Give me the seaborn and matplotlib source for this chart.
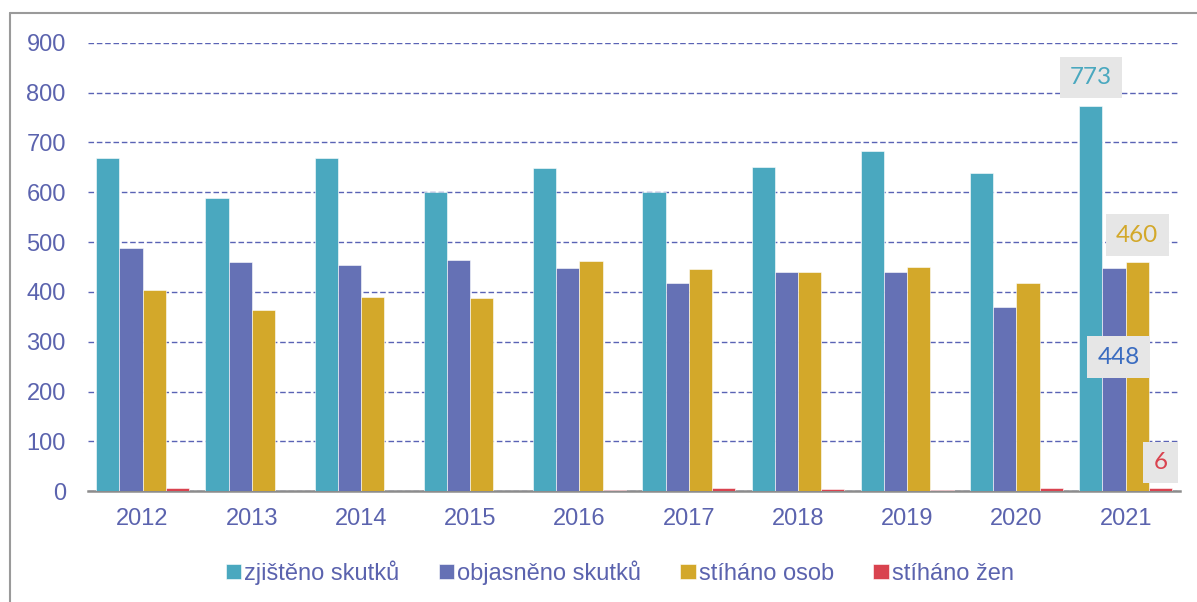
import pandas as pd
import numpy as np
import matplotlib.pyplot as plt
from matplotlib.lines import Line2D
import seaborn as sns

years = ['2012', '2013', '2014', '2015', '2016', '2017', '2018', '2019', '2020', '2021']
zjisteno = [669, 588, 669, 600, 649, 600, 651, 683, 639, 773]
objasneno = [488, 460, 454, 464, 448, 418, 440, 440, 370, 448]
stihano_osob = [404, 364, 390, 388, 462, 446, 440, 450, 418, 460]
stihano_zen = [6, 0, 0, 1, 3, 6, 5, 2, 6, 6]

series = ['zjištěno skutků', 'objasněno skutků', 'stíháno osob', 'stíháno žen']
colors = ['#4AA8BF', '#6571B5', '#D3A82A', '#D9434F']
label_colors = ['#4AA8BF', '#3A6CC0', '#D3A82A', '#D9434F']
# where the data labels of the last year sit (y in data units, x shift in bar widths)
label_y = [830, 269, 514, 58]
label_dx = [0.0, 0.2, 0.0, 0.0]

df = pd.DataFrame({
    'rok': years * 4,
    'rada': np.repeat(series, len(years)),
    'hodnota': zjisteno + objasneno + stihano_osob + stihano_zen,
})

sns.set_style('white')
plt.rcParams['font.family'] = ['Liberation Sans', 'DejaVu Sans']
txt = '#5B63AE'

fig, ax = plt.subplots(figsize=(11.97, 6.02), dpi=100)
fig.subplots_adjust(left=0.0735, right=0.986, top=0.929, bottom=0.184)

sns.barplot(data=df, x='rok', y='hodnota', hue='rada', palette=colors,
            width=0.85, gap=0, saturation=1, ax=ax, legend=True,
            edgecolor='white', linewidth=0.4)
for cont in ax.containers:
    for p in cont.patches:
        p.set_zorder(3)

ax.set_ylim(0, 900)
ax.set_xlim(-0.5, 9.5)
ax.set_yticks(range(0, 901, 100))
ax.yaxis.grid(True, linestyle=(0, (4, 2)), color='#5A63B5', linewidth=1)
ax.set_axisbelow(True)
for s in ['top', 'right', 'left']:
    ax.spines[s].set_visible(False)
ax.spines['bottom'].set_color('#8C8C8C')
ax.spines['bottom'].set_linewidth(1.8)
ax.spines['bottom'].set_zorder(2)
ax.tick_params(axis='both', length=0, labelsize=17, colors=txt)
ax.tick_params(axis='y', pad=16)
ax.tick_params(axis='x', pad=12)
ax.set_xlabel('')
ax.set_ylabel('')

# data labels for the last year
last = len(years) - 1
for i, cont in enumerate(ax.containers):
    bar = cont.patches[last]
    xc = bar.get_x() + bar.get_width() * (0.5 + label_dx[i])
    val = df[df['rada'] == series[i]]['hodnota'].iloc[last]
    ax.text(xc, label_y[i], f'{val:d}', ha='center', va='center', fontsize=17.5,
            family=['Lato', 'DejaVu Sans'], color=label_colors[i], zorder=5,
            bbox=dict(boxstyle='square,pad=0.42', fc='#E6E6E6', ec='none'))

leg = ax.legend(loc='center', bbox_to_anchor=(0.487, -0.181), ncol=4,
                frameon=False, fontsize=17, handlelength=0.65, handleheight=0.65,
                handletextpad=0.15, columnspacing=1.65)
for t in leg.get_texts():
    t.set_color(txt)

fig.add_artist(Line2D([10 / 1197, 10 / 1197], [0, 1 - 13 / 602], color='#9A9A9A', lw=1.5))
fig.add_artist(Line2D([10 / 1197, 1], [1 - 13 / 602, 1 - 13 / 602], color='#9A9A9A', lw=1.5))

fig.savefig('out.png', dpi=100)
